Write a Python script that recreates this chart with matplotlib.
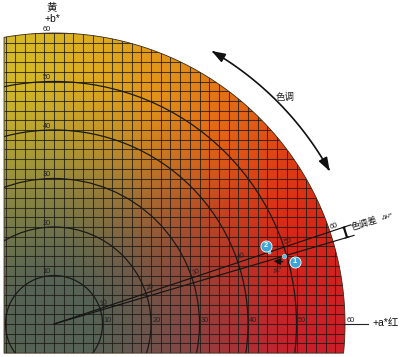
import numpy as np
import matplotlib
matplotlib.use('Agg')
import matplotlib.pyplot as plt
from matplotlib.patches import Polygon, Circle, FancyArrowPatch
from matplotlib.collections import LineCollection
from matplotlib.path import Path

plt.rcParams['font.family'] = ['Liberation Sans', 'Noto Sans CJK SC', 'DejaVu Sans']

# ---------------- data ----------------
chroma_rings = [10, 20, 30, 40, 50]
axis_ticks = [10, 20, 30, 40, 50, 60]
tick_labels = ['10', '20', '30', '40', '50', '60']
disk_radius = 60
a_min, b_min = -10.3, -6.0
grid_step = 2
sample_1 = (47.4, 14.0)   # a*, b*
sample_2 = (44.3, 14.8)
hue_arrow_deg = (29, 60)
hue_arrow_radius = 65
hue_line_length = 64.5

# hue anchor colours (angle deg -> rgb at full chroma)
hue_anchor_deg = [-20, 0, 20, 35, 50, 65, 80, 95, 120]
hue_anchor_rgb = [(198, 30, 50), (204, 32, 40), (214, 38, 24), (222, 62, 20),
                  (228, 104, 20), (228, 144, 24), (222, 170, 30), (214, 184, 36),
                  (208, 188, 42)]
neutral_rgb = (85, 98, 85)

# ---------------- figure ----------------
W, H = 400, 357
S = 4.85          # px per unit
ox, oy = 54, 324  # origin in px
fig = plt.figure(figsize=(W / 100, H / 100), dpi=100)
ax = fig.add_axes([0, 0, 1, 1])
xlim = (-ox / S, (W - ox) / S)
ylim = (-(H - oy) / S, oy / S)
ax.set_xlim(*xlim)
ax.set_ylim(*ylim)
ax.axis('off')

R = disk_radius
th0 = np.arcsin(b_min / R)
th1 = np.arccos(a_min / R)
ts = np.linspace(th0, th1, 500)
verts = [(a_min, b_min)] + list(zip(R * np.cos(ts), R * np.sin(ts)))
disk = Polygon(verts, closed=True, facecolor='none', edgecolor='#3a2a1a', lw=0.6, zorder=3)
ax.add_patch(disk)

# colour field
n = 700
A, B = np.meshgrid(np.linspace(xlim[0], xlim[1], n), np.linspace(ylim[0], ylim[1], n))
C = np.hypot(A, B)
ang = np.degrees(np.arctan2(B, A))
ang = np.where(ang < -90, ang + 360, ang)
hue = np.stack([np.interp(ang, hue_anchor_deg, [c[i] for c in hue_anchor_rgb]) for i in range(3)], -1)
s = np.clip((C - 8) / 44, 0, 1)
s = s * s * (3 - 2 * s) * 0.5 + s * 0.5
g = np.array(neutral_rgb, float)
rgb = g + (hue - g) * s[..., None]
im = ax.imshow(rgb / 255, extent=(xlim[0], xlim[1], ylim[0], ylim[1]), origin='lower',
               interpolation='bilinear', zorder=1, aspect='auto')
im.set_clip_path(disk)

# grid
segs = []
for v in np.arange(-10, 61, grid_step):
    segs.append([(v, b_min), (v, R)])
    segs.append([(a_min, v), (R, v)])
lc = LineCollection(segs, colors='#1c1a14', linewidths=0.75, alpha=0.78, zorder=2)
ax.add_collection(lc)
lc.set_clip_path(disk)

# chroma rings
for r in chroma_rings:
    c = Circle((0, 0), r, fill=False, edgecolor='#1a1a1a', lw=0.9, zorder=2.5)
    ax.add_patch(c)
    c.set_clip_path(disk)

# axis labels
fs_small = 5.3
for v, t in zip(axis_ticks, tick_labels):
    ax.text(-1.5, v + 0.8, t, fontsize=fs_small, ha='center', va='center', color='#222', zorder=5)
    ax.text(v + 1.1, 0.8, t, fontsize=fs_small, ha='center', va='center', color='#222', zorder=5)
ax.plot([R - 0.3, 64.7], [0, 0], color='#222', lw=0.8, zorder=5)
ax.text(65.6, 0.2, '+a*红', fontsize=7.5, ha='left', va='center', color='#111')
ax.text(-0.4, 65.4, '黄', fontsize=7.5, ha='center', va='center', color='#111')
ax.text(-0.4, 62.8, '+b*', fontsize=7.5, ha='center', va='center', color='#111')

# hue lines
t1 = np.arctan2(sample_1[1], sample_1[0])
t2 = np.arctan2(sample_2[1], sample_2[0])
for t in (t1, t2):
    ax.plot([0, hue_line_length * np.cos(t)], [0, hue_line_length * np.sin(t)],
            color='#151515', lw=0.85, zorder=4)
u = np.array([np.cos(t2), np.sin(t2)])
p = np.array([-np.sin(t2), np.cos(t2)])
for v, tl in zip(axis_ticks, tick_labels):
    pos = u * (v + 1.1) + p * 0.9
    ax.text(pos[0], pos[1], tl, fontsize=fs_small, rotation=np.degrees(t2), ha='center', va='center',
            rotation_mode='anchor', color='#222', zorder=5)

# delta H bracket
rb = 63.0
pu = rb * np.array([np.cos(t2), np.sin(t2)])
pl = rb * np.array([np.cos(t1), np.sin(t1)])
ax.plot([pu[0], pl[0]], [pu[1], pl[1]], color='#111', lw=1.6, zorder=5, solid_capstyle='butt')
for q in (pu, pl):
    d = u * 0.35
    ax.plot([q[0] - d[0], q[0] + d[0]], [q[1] - d[1], q[1] + d[1]], color='#111', lw=0.9, zorder=5)
rot = np.degrees((t1 + t2) / 2)
ax.text(64.1, 20.6, '色调差', fontsize=6.5, rotation=rot, rotation_mode='anchor',
        ha='center', va='center', color='#111')
ax.text(68.7, 22.0, 'ΔH*', fontsize=4.5, rotation=rot, rotation_mode='anchor',
        ha='center', va='center', color='#111', style='italic')

# hue arrow
tt = np.radians(np.linspace(hue_arrow_deg[0], hue_arrow_deg[1], 100))
arc = Path(np.column_stack([hue_arrow_radius * np.cos(tt), hue_arrow_radius * np.sin(tt)]))
arr = FancyArrowPatch(path=arc, arrowstyle='<|-|>,head_length=0.8,head_width=0.28',
                      mutation_scale=10, color='#111', lw=1.2, shrinkA=0, shrinkB=0, zorder=5)
ax.add_patch(arr)
ax.text(47.6, 46.8, '色调', fontsize=6.8, ha='center', va='center', color='#222')

# samples
ax.plot(*sample_1, 'o', ms=3.2, color='#45c3e6', mec='white', mew=0.3, zorder=6)
ax.plot(*sample_2, 'o', ms=2.2, color='#45c3e6', mec='white', mew=0.3, zorder=6)
for (x, y), lab in (((49.7, 12.8), '1'), ((43.7, 16.1), '2')):
    ax.plot(x, y, 'o', ms=8, color='#3aa6d6', mec='white', mew=0.6, zorder=6)
    ax.text(x, y, lab, fontsize=5.4, color='white', fontweight='bold', ha='center', va='center', zorder=7)

# delta C arrow
ax.annotate('', xy=(45.3, 12.95), xytext=(47.2, 12.85),
            arrowprops=dict(arrowstyle='-|>,head_length=0.4,head_width=0.2', color='#111', lw=0.9,
                            shrinkA=0, shrinkB=0), zorder=6)
ax.text(46.2, 11.0, 'ΔC*', fontsize=4.0, rotation=15, ha='center', va='center', color='#222', zorder=6)

fig.savefig('out.png', dpi=100)
